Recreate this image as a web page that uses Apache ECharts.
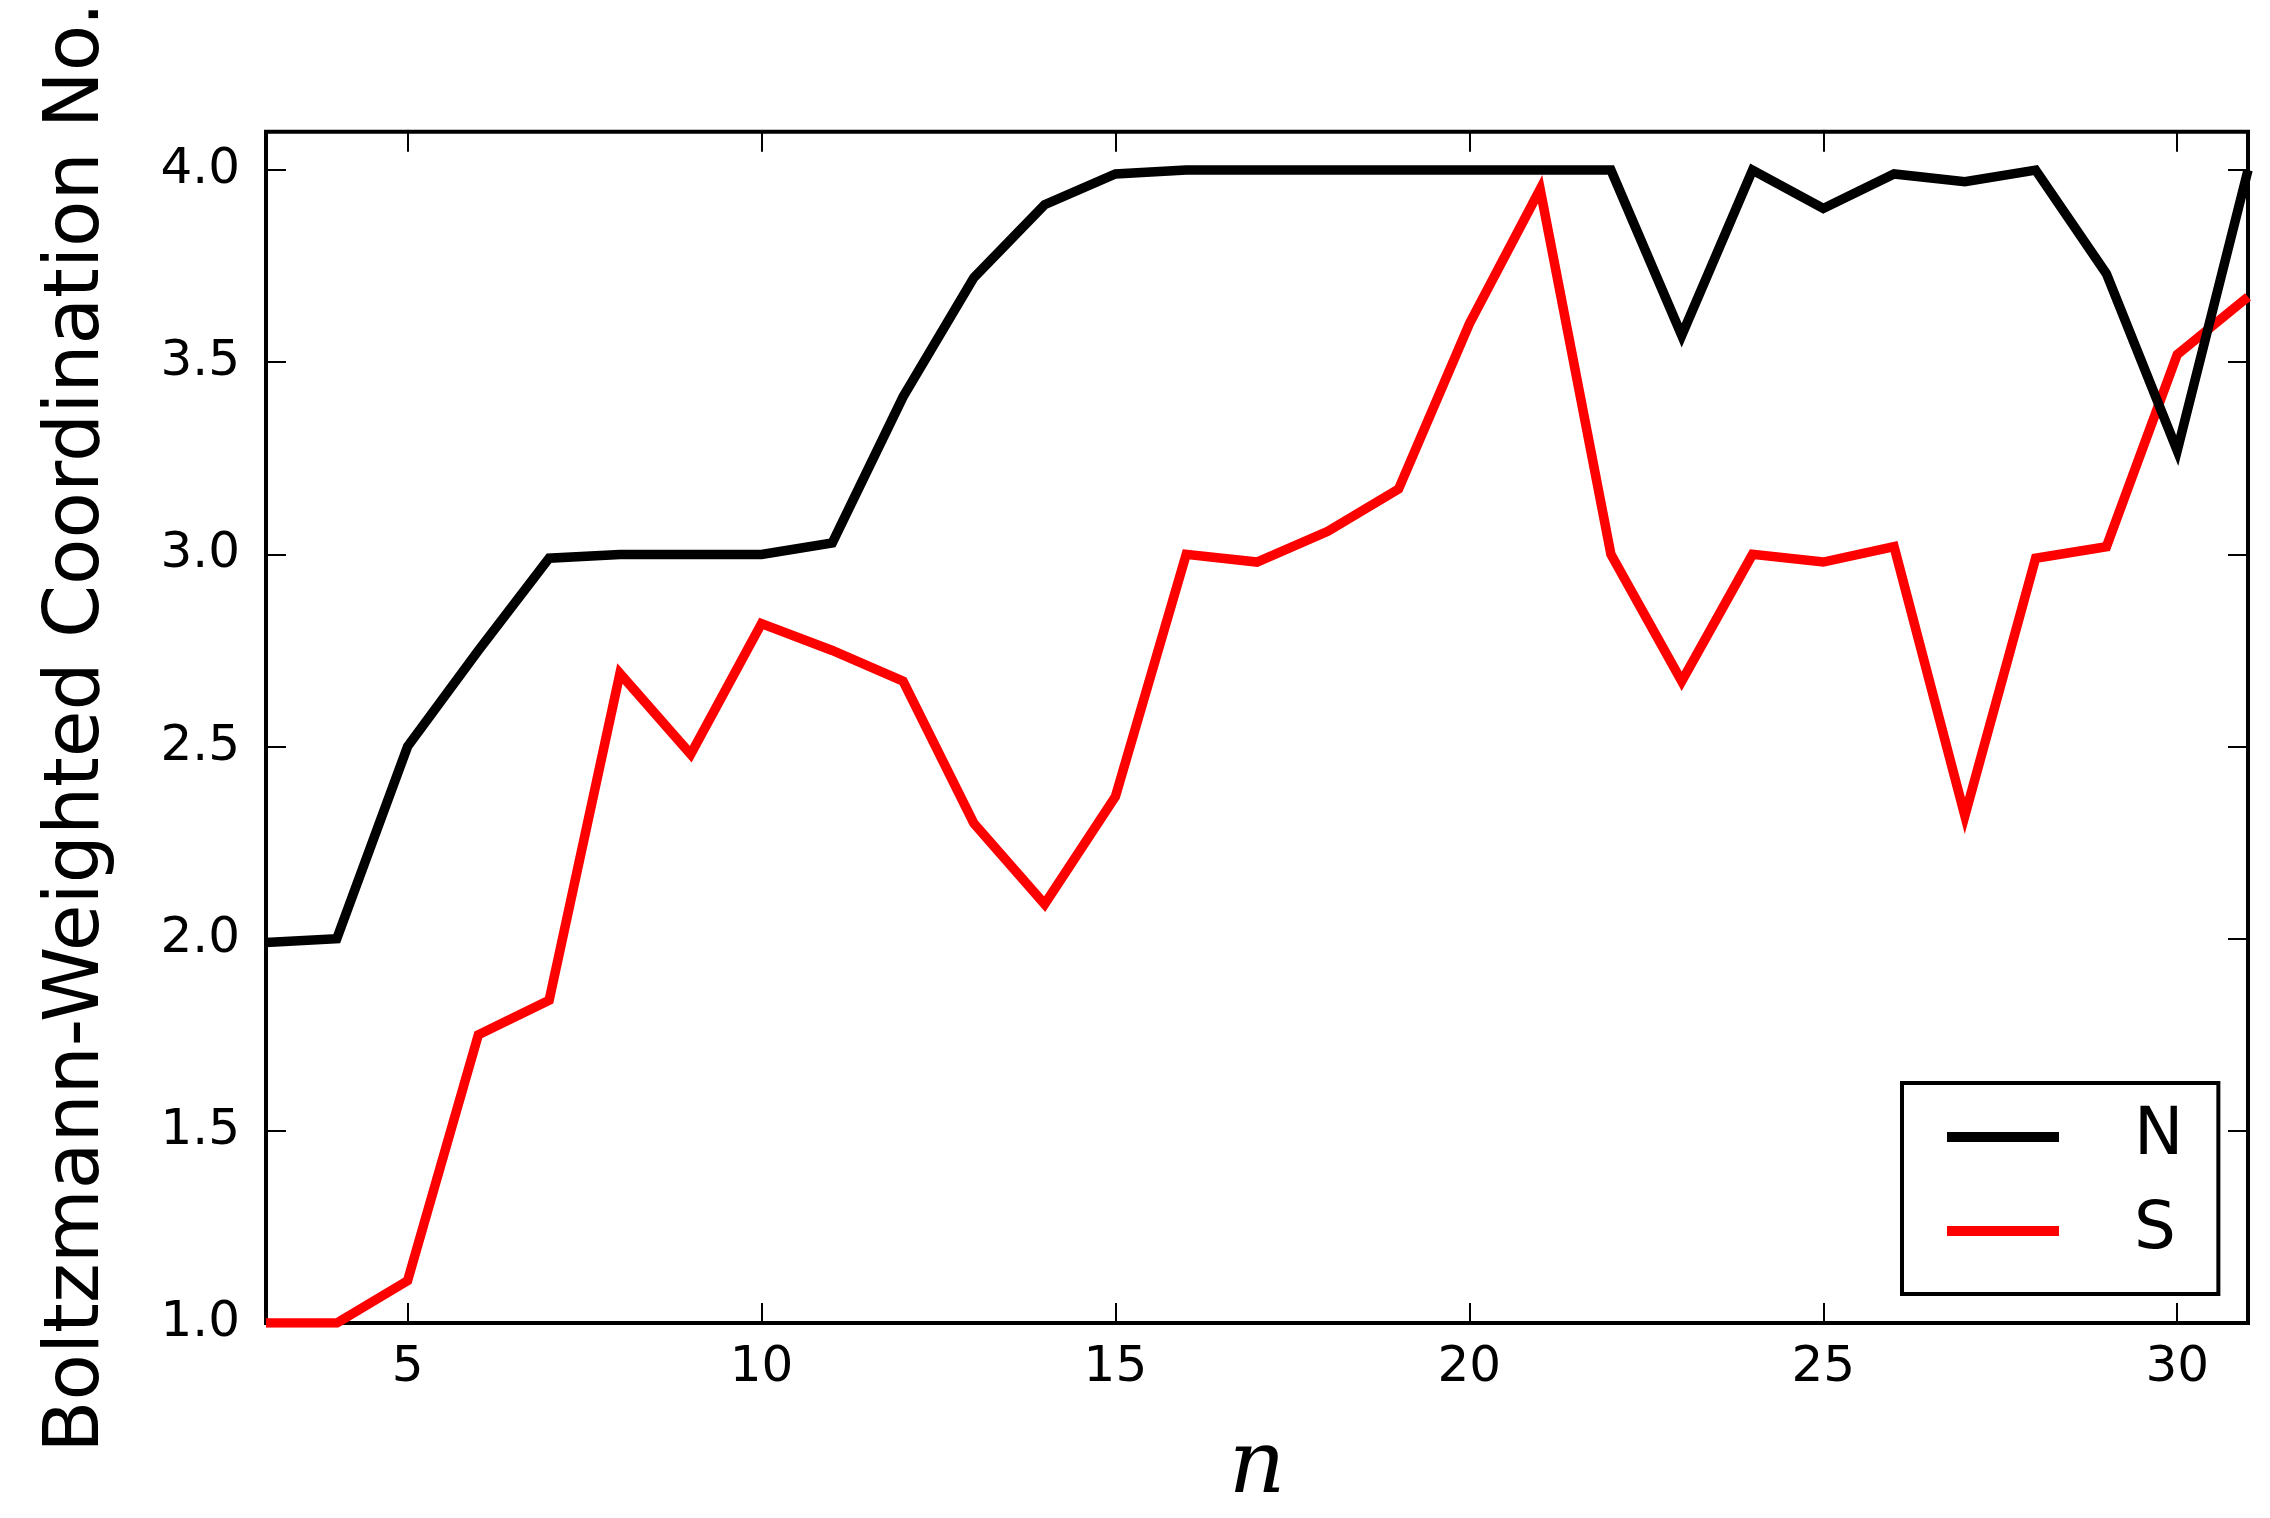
<!DOCTYPE html>
<html>
<head>
<meta charset="utf-8">
<script src="https://cdn.jsdelivr.net/npm/echarts@6/dist/echarts.min.js"></script>
<style>
html,body{margin:0;padding:0;background:#fff;}
#chart{width:2270px;height:1518px;}
</style>
</head>
<body>
<div id="chart"></div>
<script>
const nValues = [3,4,5,6,7,8,9,10,11,12,13,14,15,16,17,18,19,20,21,22,23,24,25,26,27,28,29,30,31];
const coordN = [1.99,2.00,2.50,2.75,2.99,3.00,3.00,3.00,3.03,3.41,3.72,3.91,3.99,4.00,4.00,4.00,4.00,4.00,4.00,4.00,3.57,4.00,3.90,3.99,3.97,4.00,3.73,3.27,4.00];
const coordS = [1.00,1.00,1.11,1.75,1.84,2.69,2.48,2.82,2.75,2.67,2.30,2.09,2.37,3.00,2.98,3.06,3.17,3.60,3.95,3.00,2.67,3.00,2.98,3.02,2.32,2.99,3.02,3.52,3.67];
const xTicks = [5,10,15,20,25,30];
const yTicks = [1.0,1.5,2.0,2.5,3.0,3.5,4.0];
const seriesNames = ['N','S'];
const seriesColors = ['#000000','#ff0000'];

const FONT = 'DejaVu Sans';
const chart = echarts.init(document.getElementById('chart'), null, {renderer:'canvas'});

const tickStyle = {show:true, inside:true, length:20, lineStyle:{color:'#000', width:2}};

const option = {
  animation:false,
  backgroundColor:'#fff',
  grid:{left:266, right:22, top:130, bottom:193, show:true, borderColor:'#000', borderWidth:4, backgroundColor:'transparent'},
  legend:{
    data:seriesNames,
    orient:'vertical',
    left:1902, top:1083,
    padding:[21,35,30,45],
    borderColor:'#000', borderWidth:4, borderRadius:0,
    backgroundColor:'#fff',
    icon:'rect', itemWidth:112, itemHeight:10, itemGap:28,
    textStyle:{fontFamily:FONT, fontSize:66, color:'#000', lineHeight:66, padding:[0,0,0,70]}
  },
  xAxis:[{
    type:'value', min:3, max:31, position:'bottom',
    name:'n', nameLocation:'middle', nameGap:102,
    nameTextStyle:{fontFamily:'DejaVu Serif', fontStyle:'italic', fontSize:88, color:'#000'},
    axisLine:{show:false},
    axisTick:Object.assign({customValues:xTicks}, tickStyle),
    axisLabel:{customValues:xTicks, fontFamily:FONT, fontSize:50, color:'#000', margin:20},
    splitLine:{show:false}
  },{
    type:'value', min:3, max:31, position:'top',
    axisLine:{show:false},
    axisTick:Object.assign({customValues:xTicks}, tickStyle),
    axisLabel:{show:false, customValues:xTicks},
    splitLine:{show:false}
  }],
  yAxis:[{
    type:'value', min:1, max:4.1, position:'left',
    name:'Boltzmann-Weighted Coordination No.', nameLocation:'middle', nameRotate:90, nameGap:150,
    nameTextStyle:{fontFamily:FONT, fontSize:76, color:'#000'},
    axisLine:{show:false},
    axisTick:Object.assign({customValues:yTicks}, tickStyle),
    axisLabel:{customValues:yTicks, fontFamily:FONT, fontSize:50, color:'#000', margin:26,
      formatter:v=>Number(v).toFixed(1)},
    splitLine:{show:false}
  },{
    type:'value', min:1, max:4.1, position:'right',
    axisLine:{show:false},
    axisTick:Object.assign({customValues:yTicks}, tickStyle),
    axisLabel:{show:false, customValues:yTicks},
    splitLine:{show:false}
  }],
  series:[
    {name:seriesNames[0], type:'line', xAxisIndex:0, yAxisIndex:0, showSymbol:false, symbol:'none',
     data:nValues.map((n,i)=>[n,coordN[i]]), color:seriesColors[0],
     lineStyle:{color:seriesColors[0], width:9.5, join:'miter'}, z:3},
    {name:seriesNames[1], type:'line', xAxisIndex:0, yAxisIndex:0, showSymbol:false, symbol:'none',
     data:nValues.map((n,i)=>[n,coordS[i]]), color:seriesColors[1],
     lineStyle:{color:seriesColors[1], width:9.5, join:'miter'}, z:2}
  ]
};
chart.setOption(option);
</script>
</body>
</html>
